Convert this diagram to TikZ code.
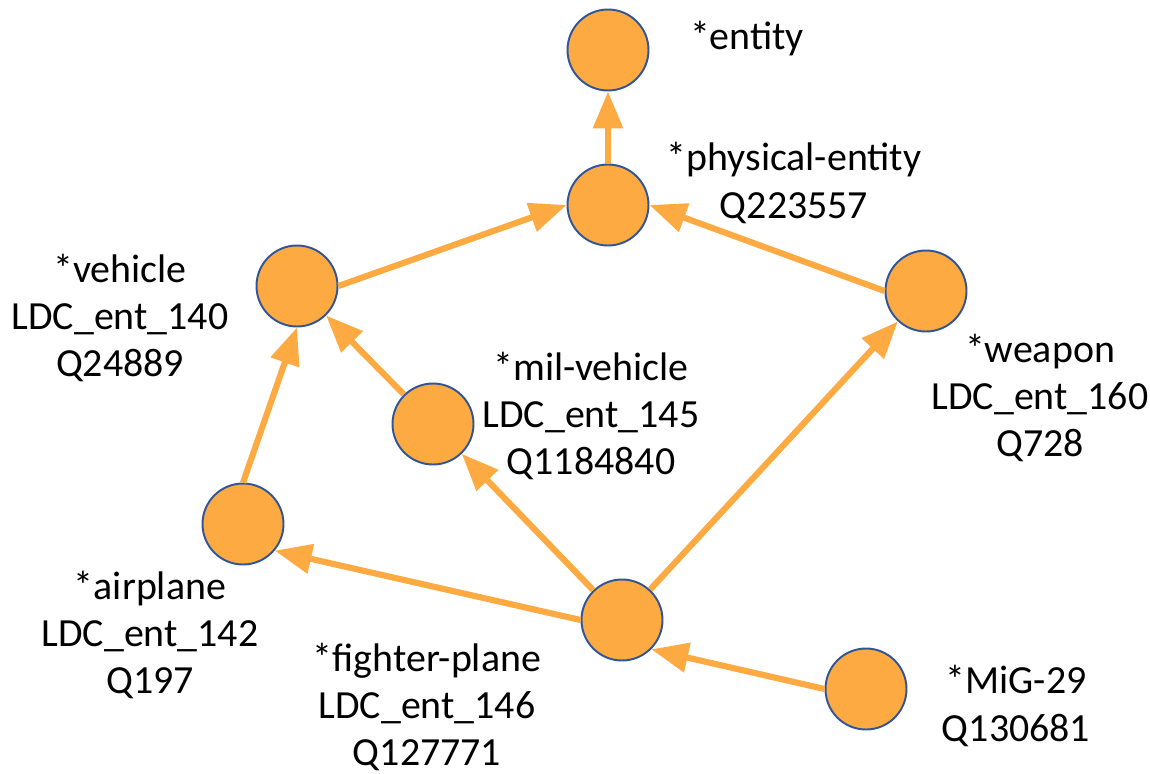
\documentclass[tikz,border=0pt]{standalone}
\usepackage{fontspec}
\setmainfont{Carlito}
\usetikzlibrary{arrows.meta}
\definecolor{synorange}{RGB}{253,170,66}
\definecolor{synblue}{RGB}{47,85,151}

\begin{document}
\begin{tikzpicture}[x=0.02cm, y=-0.02cm,
    synset/.style={circle, fill=synorange, draw=synblue, line width=1.1pt,
      minimum size=1.62cm, inner sep=0pt},
    lbl/.style={align=center, inner sep=0pt,
      font=\fontsize{22.7}{26.8}\selectfont},
    isa/.style={draw=synorange, line width=3.5pt,
      -{Triangle[length=0.74cm, width=0.58cm]}}]
  \useasboundingbox (0,0) rectangle (1150,774);
  % Concepts
  \node[synset] (entity) at (608,50) {};
  \node[synset] (physical) at (608,205) {};
  \node[synset] (vehicle) at (297,286) {};
  \node[synset] (weapon) at (926,291) {};
  \node[synset] (milveh) at (433,424) {};
  \node[synset] (airplane) at (243,524) {};
  \node[synset] (fighter) at (622,620) {};
  \node[synset] (mig) at (866,689) {};
  % Labels
  \node[lbl] (entitylbl) at (747,39) {*entity};
  \node[lbl] (physicallbl) at (794,183) {*physical-entity\\Q223557};
  \node[lbl] (vehiclelbl) at (120,318) {*vehicle\\LDC\_ent\_140\\Q24889};
  \node[lbl] (milvehlbl) at (591,416) {*mil-vehicle\\LDC\_ent\_145\\Q1184840};
  \node[lbl] (weaponlbl) at (1040,398) {*weapon\\LDC\_ent\_160\\Q728};
  \node[lbl] (airplanelbl) at (150,635) {*airplane\\LDC\_ent\_142\\Q197};
  \node[lbl] (fighterlbl) at (427,707) {*fighter-plane\\LDC\_ent\_146\\Q127771};
  \node[lbl] (miglbl) at (1016,706) {*MiG-29\\Q130681};
  % Hypernym links
  \draw[isa] (physical) -- (entity);
  \draw[isa] (vehicle.east) -- (physical.west);
  \draw[isa] (weapon.west) -- (physical.east);
  \draw[isa] (milveh) -- (vehicle);
  \draw[isa] (airplane.north) -- (vehicle.south);
  \draw[isa] (fighter.west) -- (airplane.-40);
  \draw[isa] (fighter) -- (milveh);
  \draw[isa] (fighter) -- (weapon);
  \draw[isa] (mig.west) -- (fighter.-45);
\end{tikzpicture}
\end{document}
